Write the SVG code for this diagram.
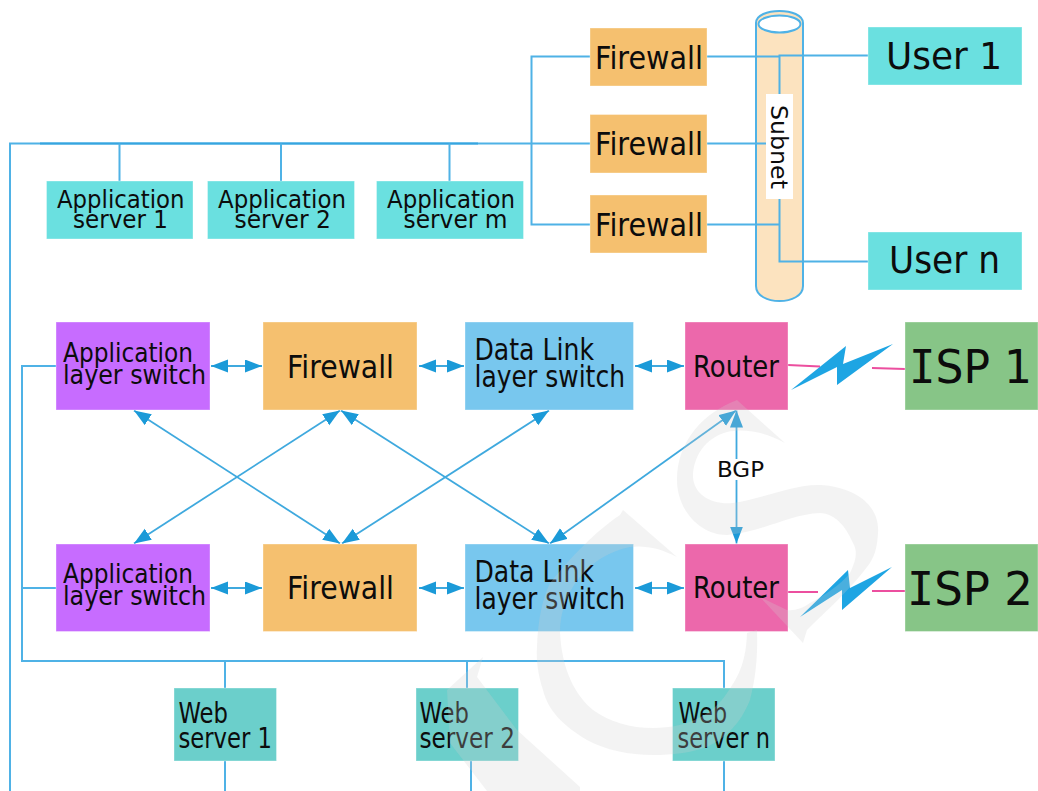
<svg xmlns="http://www.w3.org/2000/svg" width="1038" height="791" viewBox="0 0 1038 791">
<style>
text{font-family:"DejaVu Sans",Verdana,sans-serif;fill:#0c0c0c}
.fw{fill:#f5c06f}.cy{fill:#6ae0e0}.pu{fill:#c76cff}.dl{fill:#78c7ee}.ro{fill:#ec68ab}.is{fill:#87c587}.we{fill:#6bcfcb}
.box{stroke:#fff;stroke-opacity:.35;stroke-width:1}
.ln{fill:none;stroke:#4fb2e6;stroke-width:2}
.ar{fill:none;stroke:#3fa9de;stroke-width:1.800;marker-start:url(#a);marker-end:url(#a)}
.pk{fill:none;stroke:#ec4f9f;stroke-width:1.800}
.bolt{fill:#1ea5e3}
.mono{font-family:"DejaVu Sans Mono",monospace}
</style>
<defs>
<marker id="a" markerUnits="userSpaceOnUse" markerWidth="18" markerHeight="14" refX="17" refY="6.500" orient="auto-start-reverse"><path d="M0,0L17,6.500L0,13Z" fill="#1b9ad8"/></marker>
</defs>
<rect width="1038" height="791" fill="#fff"/>
<g id="subnet">
<path d="M756,23V286C756,306 803,306 803,286V23C803,7 756,7 756,23Z" fill="#fce3bf" stroke="#4fb2e6" stroke-width="2"/>
<ellipse cx="779.500" cy="24" rx="21" ry="8.500" fill="#fff" stroke="#4fb2e6" stroke-width="2"/>
</g>
<g id="connectors">
<path class="ln" d="M591,56.500H531.500V224.500H591"/>
<path class="ln" d="M591,143.500H10V791"/>
<path class="ln" style="stroke:#36a5e0" d="M40,143.500H478"/>
<path class="ln" d="M707,56.500H779.500M779.500,94V55.500H868M707,143.500H766M707,224.500H779.500M779.500,199V261.500H868"/>
<path class="ln" d="M119.500,143.500V181M281,143.500V181M449.500,143.500V181"/>
<path class="ln" d="M56,366H22V661H724V688M22,588H56M225,661V688M467,661V688"/>
<path class="ln" d="M225,761V791M471,761V791M724,761V791"/>
<path class="ar" d="M211,366H262"/><path class="ar" d="M419,366H464"/><path class="ar" d="M635,366H684"/>
<path class="ar" d="M211,588H262"/><path class="ar" d="M419,588H464"/><path class="ar" d="M635,588H684"/>
<path class="ar" d="M134,410.500L340,543.500"/><path class="ar" d="M340,410.500L134,543.500"/><path class="ar" d="M341,410.500L549,543.500"/>
<path class="ar" d="M549,410.500L342,543.500"/><path class="ar" d="M736,410.500L550,543.500"/><path class="ar" d="M736.500,410.500V543.500"/>
<path class="pk" d="M788,365L820,366.500M872,368L905,369M787,592H818M872,591H905"/>
</g>
<g id="bolt1"><path class="bolt" d="M791,390L846,346L843,364L893,344L837,385L837,367Z"/></g>
<g id="bolt2"><path class="bolt" d="M800,617L848,570L850,588L892,567L842,610L842,590Z"/></g>
<g id="firewall-a"><rect class="box fw" x="590" y="28" width="117" height="58"/><text x="595" y="68.500" font-size="32" textLength="108" lengthAdjust="spacingAndGlyphs">Firewall</text></g>
<g id="firewall-b"><rect class="box fw" x="590" y="114.500" width="117" height="58.500"/><text x="595" y="155" font-size="32" textLength="108" lengthAdjust="spacingAndGlyphs">Firewall</text></g>
<g id="firewall-c"><rect class="box fw" x="590" y="195" width="117" height="58"/><text x="595" y="236" font-size="32" textLength="108" lengthAdjust="spacingAndGlyphs">Firewall</text></g>
<g id="user-1"><rect class="box cy" x="868" y="27" width="154" height="58"/><text x="886" y="69" font-size="37" textLength="116" lengthAdjust="spacingAndGlyphs">User 1</text></g>
<g id="user-n"><rect class="box cy" x="868" y="232" width="154" height="58"/><text x="889" y="273" font-size="37" textLength="111" lengthAdjust="spacingAndGlyphs">User n</text></g>
<g id="subnet-label"><rect x="766" y="94" width="27" height="105" fill="#fff"/><text transform="translate(771 105) rotate(90)" font-size="23" textLength="84" lengthAdjust="spacingAndGlyphs">Subnet</text></g>
<g id="app-server-1"><rect class="box cy" x="46.500" y="181" width="146.500" height="58"/><text x="57" y="208" font-size="24" textLength="127.500" lengthAdjust="spacingAndGlyphs">Application</text><text x="73" y="228" font-size="24" textLength="95" lengthAdjust="spacingAndGlyphs">server 1</text></g>
<g id="app-server-2"><rect class="box cy" x="207.500" y="181" width="147" height="58"/><text x="218" y="208" font-size="24" textLength="128" lengthAdjust="spacingAndGlyphs">Application</text><text x="234.500" y="228" font-size="24" textLength="96.500" lengthAdjust="spacingAndGlyphs">server 2</text></g>
<g id="app-server-m"><rect class="box cy" x="376.500" y="181" width="147" height="58"/><text x="387" y="208" font-size="24" textLength="128" lengthAdjust="spacingAndGlyphs">Application</text><text x="403.500" y="228" font-size="24" textLength="104" lengthAdjust="spacingAndGlyphs">server m</text></g>
<g id="app-switch-1"><rect class="box pu" x="56" y="322" width="154" height="88"/><text x="63" y="362" font-size="26" textLength="130" lengthAdjust="spacingAndGlyphs">Application</text><text x="63" y="384" font-size="26" textLength="143" lengthAdjust="spacingAndGlyphs">layer switch</text></g>
<g id="firewall-1"><rect class="box fw" x="263" y="322" width="154" height="88"/><text x="287" y="378" font-size="32" textLength="107" lengthAdjust="spacingAndGlyphs">Firewall</text></g>
<g id="dl-switch-1"><rect class="box dl" x="465" y="322" width="168.500" height="88"/><text x="474.500" y="360" font-size="30" textLength="119.500" lengthAdjust="spacingAndGlyphs">Data Link</text><text x="474.500" y="387" font-size="30" textLength="150.500" lengthAdjust="spacingAndGlyphs">layer switch</text></g>
<g id="router-1"><rect class="box ro" x="685" y="322" width="103" height="88"/><text x="693" y="377" font-size="30" textLength="86" lengthAdjust="spacingAndGlyphs">Router</text></g>
<g id="isp-1"><rect class="box is" x="905" y="322" width="133" height="88"/><text x="909" y="383" font-size="47" textLength="123" lengthAdjust="spacingAndGlyphs"><tspan class="mono">I</tspan>SP 1</text></g>
<g id="app-switch-2"><rect class="box pu" x="56" y="544" width="154" height="87.500"/><text x="63" y="583" font-size="26" textLength="130" lengthAdjust="spacingAndGlyphs">Application</text><text x="63" y="605" font-size="26" textLength="143" lengthAdjust="spacingAndGlyphs">layer switch</text></g>
<g id="firewall-2"><rect class="box fw" x="263" y="544" width="154" height="87.500"/><text x="287" y="599" font-size="32" textLength="107" lengthAdjust="spacingAndGlyphs">Firewall</text></g>
<g id="dl-switch-2"><rect class="box dl" x="465" y="544" width="168.500" height="87.500"/><text x="474.500" y="582" font-size="30" textLength="119.500" lengthAdjust="spacingAndGlyphs">Data Link</text><text x="474.500" y="609" font-size="30" textLength="150.500" lengthAdjust="spacingAndGlyphs">layer switch</text></g>
<g id="router-2"><rect class="box ro" x="685" y="544" width="103" height="87.500"/><text x="693" y="598" font-size="30" textLength="86" lengthAdjust="spacingAndGlyphs">Router</text></g>
<g id="isp-2"><rect class="box is" x="905" y="544" width="133" height="87.500"/><text x="907" y="605" font-size="47" textLength="126" lengthAdjust="spacingAndGlyphs"><tspan class="mono">I</tspan>SP 2</text></g>
<g id="bgp"><rect x="716" y="459" width="50" height="21" fill="#fff"/><text x="717" y="477" font-size="22" textLength="47" lengthAdjust="spacingAndGlyphs">BGP</text></g>
<g id="web-server-1"><rect class="box we" x="174" y="688" width="102.500" height="73"/><text x="178.500" y="723" font-size="28" textLength="49.500" lengthAdjust="spacingAndGlyphs">Web</text><text x="178.500" y="748" font-size="28" textLength="93.500" lengthAdjust="spacingAndGlyphs">server 1</text></g>
<g id="web-server-2"><rect class="box we" x="416" y="688" width="102.500" height="73"/><text x="419.500" y="723" font-size="28" textLength="49.500" lengthAdjust="spacingAndGlyphs">Web</text><text x="419.500" y="748" font-size="28" textLength="95.500" lengthAdjust="spacingAndGlyphs">server 2</text></g>
<g id="web-server-n"><rect class="box we" x="672.500" y="688" width="102.500" height="73"/><text x="678.500" y="723" font-size="28" textLength="48.500" lengthAdjust="spacingAndGlyphs">Web</text><text x="677.500" y="748" font-size="28" textLength="92.500" lengthAdjust="spacingAndGlyphs">server n</text></g>
<g id="watermark" fill="#d0d0d0" fill-opacity=".25">
<path d="M737,400L785,443C765,432 745,428 727,432C705,438 693,457 693,477C694,495 712,505 733,503C765,498 795,484 820,485C855,487 880,505 878,533C877,550 874,558 867,567C850,590 825,612 807,630L803,643L760,597L787,610C795,611 803,608 810,603C825,595 840,585 850,573C856,560 858,552 853,543C845,525 835,514 820,513C790,514 760,533 727,535C700,535 677,510 677,480C677,440 705,412 737,400Z"/>
<path d="M623,510L677,557C660,548 645,545 630,547C590,555 560,590 560,633C562,670 575,695 593,710C610,722 630,728 653,728C690,728 715,712 727,693C740,675 746,660 747,633L757,630C758,660 755,680 750,700C740,725 725,738 707,747C690,753 672,755 653,755C630,755 605,750 587,740C562,725 548,710 543,690C538,675 536,660 537,647C538,620 542,600 550,583C565,565 590,535 620,515Z"/>
<path d="M483,657L477,677L517,730L580,787V791H487L450,743L447,690Z"/>
</g>
</svg>
